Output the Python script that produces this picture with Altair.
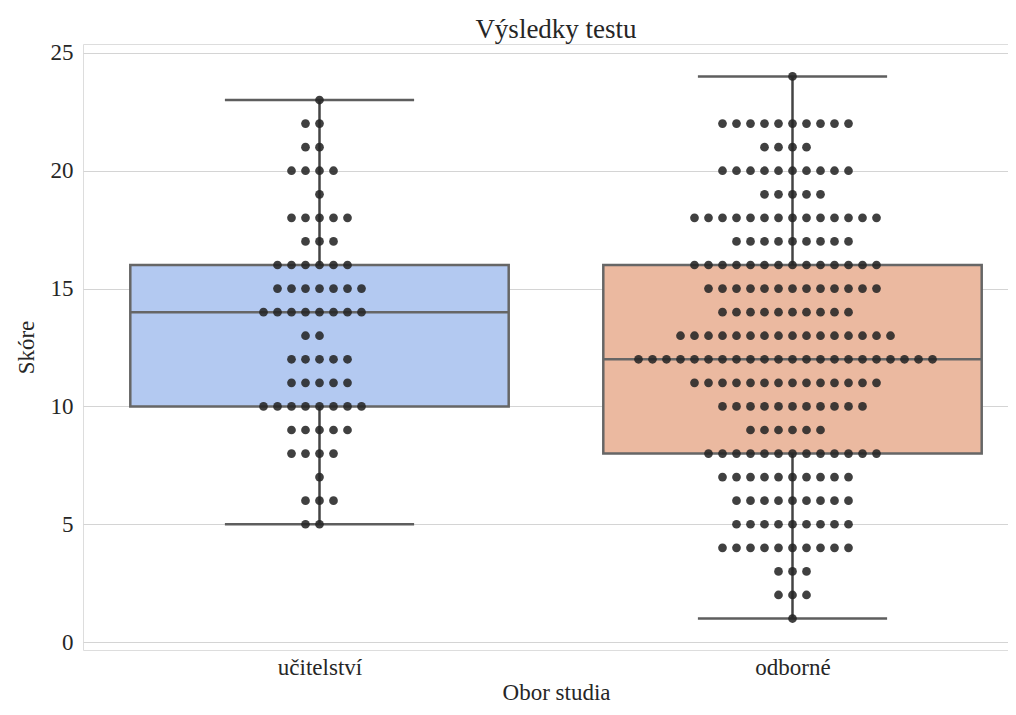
import altair as alt
import pandas as pd

# ---- data ----
categories = ["učitelství", "odborné"]

scores_uc = [5, 6, 7, 8, 9, 10, 11, 12, 13, 14, 15, 16, 17, 18, 19, 20, 21, 22, 23]
counts_uc = [2, 3, 1, 4, 5, 8, 5, 5, 2, 8, 7, 6, 3, 5, 1, 4, 2, 2, 1]

scores_od = [1, 2, 3, 4, 5, 6, 7, 8, 9, 10, 11, 12, 13, 14, 15, 16, 17, 18, 19, 20, 21, 22, 24]
counts_od = [1, 3, 3, 10, 9, 9, 10, 13, 6, 11, 14, 22, 16, 10, 13, 14, 9, 14, 5, 10, 4, 10, 1]

title_text = "Výsledky testu"
x_title = "Obor studia"
y_title = "Skóre"
y_ticks = [0, 5, 10, 15, 20, 25]
box_colors = ["#b3c9f1", "#ebb9a0"]

# ---- build table (swarm layout: dots spaced side by side in each row) ----
SPACING = 0.0296
rows = []
for gi, (cat, scores, counts) in enumerate(
    [(categories[0], scores_uc, counts_uc), (categories[1], scores_od, counts_od)]
):
    for s, n in zip(scores, counts):
        for k in range(n):
            rows.append({"obor": cat, "g": gi, "score": s,
                         "xpos": gi + (k - n // 2) * SPACING})
df = pd.DataFrame(rows)

FONT = "Liberation Serif"
ydom = [-0.335, 25.377]

label_expr = "datum.value == 0 ? '%s' : '%s'" % (categories[0], categories[1])

xscale = alt.Scale(domain=[-0.5, 1.5], nice=False, zero=False)
yscale = alt.Scale(domain=ydom, nice=False, zero=False)

xaxis = alt.Axis(values=[0, 1], labelExpr=label_expr, title=x_title, grid=False,
                 domain=False, ticks=False, labelFont=FONT, labelFontSize=23,
                 labelColor="#262626", titleFont=FONT, titleFontSize=23,
                 titleFontWeight="normal", titleColor="#262626", labelPadding=6,
                 titlePadding=2)
yaxis = alt.Axis(values=y_ticks, title=y_title, grid=True, gridColor="#d4d4d4",
                 gridWidth=1.2, domain=False, ticks=False, labelFont=FONT,
                 labelFontSize=23, labelColor="#262626", titleFont=FONT,
                 titleFontSize=23, titleFontWeight="normal", titleColor="#262626",
                 labelPadding=10, titlePadding=12)

base = alt.Chart(df)

stats = base.transform_aggregate(
    q1="q1(score)", q3="q3(score)", med="median(score)",
    lo="min(score)", hi="max(score)", groupby=["g", "obor"]
).transform_calculate(
    bx1="datum.g - 0.4", bx2="datum.g + 0.4",
    cx1="datum.g - 0.2", cx2="datum.g + 0.2"
)

boxes = stats.mark_rect(stroke="#666666", strokeWidth=2.5).encode(
    x=alt.X("bx1:Q", scale=xscale, axis=xaxis),
    x2="bx2:Q",
    y=alt.Y("q1:Q", scale=yscale, axis=yaxis),
    y2="q3:Q",
    fill=alt.Fill("obor:N", scale=alt.Scale(domain=categories, range=box_colors),
                  legend=None),
)

whisk_lo = stats.mark_rule(color="#444444", strokeWidth=2.5).encode(
    x=alt.X("g:Q", scale=xscale), y=alt.Y("lo:Q", scale=yscale), y2="q1:Q")
whisk_hi = stats.mark_rule(color="#444444", strokeWidth=2.5).encode(
    x=alt.X("g:Q", scale=xscale), y=alt.Y("q3:Q", scale=yscale), y2="hi:Q")
cap_lo = stats.mark_rule(color="#5e5e5e", strokeWidth=2.5).encode(
    x=alt.X("cx1:Q", scale=xscale), x2="cx2:Q", y=alt.Y("lo:Q", scale=yscale))
cap_hi = stats.mark_rule(color="#5e5e5e", strokeWidth=2.5).encode(
    x=alt.X("cx1:Q", scale=xscale), x2="cx2:Q", y=alt.Y("hi:Q", scale=yscale))
median = stats.mark_rule(color="#666666", strokeWidth=2.5).encode(
    x=alt.X("bx1:Q", scale=xscale), x2="bx2:Q", y=alt.Y("med:Q", scale=yscale))

dots = base.mark_circle(size=76, color="#262626", opacity=0.88).encode(
    x=alt.X("xpos:Q", scale=xscale),
    y=alt.Y("score:Q", scale=yscale),
)

chart = alt.layer(boxes, whisk_lo, whisk_hi, cap_lo, cap_hi, median, dots).properties(
    width=946, height=606,
    title=alt.Title(title_text, font=FONT, fontSize=27, fontWeight="normal",
                    color="#262626", offset=0, dy=2),
    padding={"left": 75, "top": 36, "right": -21, "bottom": 54},
    autosize=alt.AutoSizeParams(type="none"),
).configure_view(stroke="#cccccc", strokeWidth=1.2).configure(background="white")

chart.save("out.html", embed_options={"renderer": "svg", "actions": False})
